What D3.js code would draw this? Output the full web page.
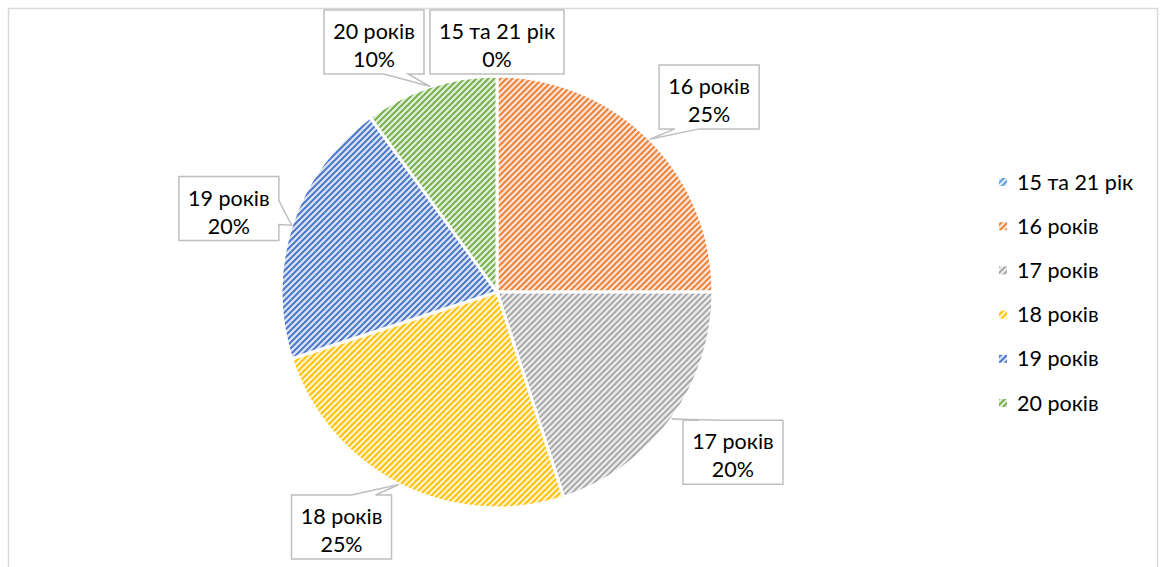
<!DOCTYPE html>
<html>
<head>
<meta charset="utf-8">
<script src="https://cdn.jsdelivr.net/npm/d3@7"></script>
<style>
  html, body { margin: 0; padding: 0; background: #ffffff; }
  svg { display: block; }
  text { font-family: Lato, "Open Sans", sans-serif; fill: #000; }
</style>
</head>
<body>
<svg id="chart" width="1160" height="567"></svg>
<script>
// ---- data ----
const categories = ['15 та 21 рік', '16 років', '17 років', '18 років', '19 років', '20 років'];
const values = [0, 25, 20, 25, 20, 10];
const colors = ['#5B9BD5', '#ED7D31', '#A5A5A5', '#FFC000', '#4472C4', '#70AD47'];

// ---- layout ----
const W = 1160, H = 567;
const cx = 497, cy = 292, R = 216;
const labelR = 283;
const fontSize = 21.5;
const labelNudge = [[0, 0], [12, 5], [7, -6], [-27, 0], [1, 4], [0, 0]];

const svg = d3.select('#chart');
svg.append('rect').attr('x', 8.5).attr('y', 8.5).attr('width', 1149).attr('height', 600)
  .attr('fill', '#fff').attr('stroke', '#d9d9d9').attr('stroke-width', 1.5);

// hatch patterns (wide upward diagonal)
const P = 6;
const defs = svg.append('defs');
colors.forEach((c, i) => {
  const p = defs.append('pattern').attr('id', 'hatch' + i).attr('patternUnits', 'userSpaceOnUse')
    .attr('width', P).attr('height', P);
  p.append('rect').attr('width', P).attr('height', P).attr('fill', d3.interpolateRgb('#ffffff', c)(0.22));
  p.append('path').attr('d', `M-1,${P + 1} L${P + 1},-1 M-2,2 L2,-2 M${P - 2},${P + 2} L${P + 2},${P - 2}`)
    .attr('stroke', c).attr('stroke-width', 1.9).attr('fill', 'none');
});

const total = d3.sum(values);
const pie = d3.pie().sort(null).value(d => d).startAngle(0).endAngle(2 * Math.PI);
const arcs = pie(values);
const arc = d3.arc().innerRadius(0).outerRadius(R);

const g = svg.append('g').attr('transform', `translate(${cx},${cy})`);
g.selectAll('path.slice').data(arcs).enter().append('path')
  .attr('class', 'slice')
  .attr('d', arc)
  .attr('fill', (d, i) => `url(#hatch${i})`)
  .attr('stroke', '#fff').attr('stroke-width', 3).attr('stroke-linejoin', 'round');

// ---- labels ----
const fmt = d3.format('.0%');
const labels = arcs.map((d, i) => {
  const mid = (d.startAngle + d.endAngle) / 2;
  return {
    i, mid,
    lines: [categories[i], fmt(values[i] / total)],
    tip: [cx + R * Math.sin(mid), cy - R * Math.cos(mid)]
  };
});

// measure
const meas = svg.append('text').attr('font-size', fontSize);
labels.forEach(L => {
  let w = 0;
  L.lines.forEach(t => { meas.text(t); w = Math.max(w, meas.node().getComputedTextLength()); });
  L.w = Math.round(w) + 18;
  L.h = 64;
});
meas.remove();

const topLimit = 10, bottomLimit = 559;
labels.forEach(L => {
  let x = cx + labelR * Math.sin(L.mid);
  let y = cy - labelR * Math.cos(L.mid);
  y = Math.max(topLimit + L.h / 2, Math.min(bottomLimit - L.h / 2, y));
  L.x = x + labelNudge[L.i][0];
  L.y = y + labelNudge[L.i][1];
});
// resolve overlaps on the top row: push the neighbour left of the 0% label
for (let b = 0; b < labels.length; b++) {
  const A = labels[0], B = labels[b];
  if (b === 0) continue;
  if (Math.abs(A.y - B.y) < (A.h + B.h) / 2 && B.x < A.x) {
    const maxRight = A.x - A.w / 2 - 6;
    if (B.x + B.w / 2 > maxRight) B.x = maxRight - B.w / 2;
  }
}

function callout(L) {
  const l = L.x - L.w / 2, r = L.x + L.w / 2, t = L.y - L.h / 2, b = L.y + L.h / 2;
  const [tx, ty] = L.tip;
  const hw = 12, off = 28;
  const clamp = (v, lo, hi) => Math.max(lo, Math.min(hi, v));
  if (ty > t - 4 && ty < b + 4 && tx > l - 4 && tx < r + 4) {
    return `M${l},${t}H${r}V${b}H${l}Z`;
  }
  if (ty > b) {
    const c = clamp(tx, l + off, r - off);
    return `M${l},${t}H${r}V${b}H${c + hw}L${tx},${ty}L${c - hw},${b}H${l}Z`;
  } else if (ty < t) {
    const c = clamp(tx, l + off, r - off);
    return `M${l},${t}H${c - hw}L${tx},${ty}L${c + hw},${t}H${r}V${b}H${l}Z`;
  } else if (tx > r) {
    const c = clamp(ty, t + off, b - off);
    return `M${l},${t}H${r}V${c - hw}L${tx},${ty}L${r},${c + hw}V${b}H${l}Z`;
  } else {
    const c = clamp(ty, t + off, b - off);
    return `M${l},${t}H${r}V${b}H${l}V${c + hw}L${tx},${ty}L${l},${c - hw}Z`;
  }
}

const lg = svg.append('g');
labels.forEach(L => {
  lg.append('path').attr('d', callout(L)).attr('fill', '#fff')
    .attr('stroke', '#bfbfbf').attr('stroke-width', 1.5).attr('stroke-linejoin', 'miter');
  const tt = lg.append('text').attr('font-size', fontSize).attr('text-anchor', 'middle');
  L.lines.forEach((s, k) => {
    tt.append('tspan').attr('x', L.x).attr('y', L.y - L.h / 2 + 29 + k * 28).text(s);
  });
});

// ---- legend ----
const legY = d3.scalePoint().domain(categories).range([182, 403]);
const leg = svg.append('g');
categories.forEach((c, i) => {
  const y = legY(c);
  leg.append('rect').attr('x', 999).attr('y', y - 4).attr('width', 8).attr('height', 8)
    .attr('fill', `url(#hatch${i})`);
  leg.append('text').attr('x', 1017).attr('y', y).attr('dy', '0.35em')
    .attr('font-size', fontSize).text(c);
});
</script>
</body>
</html>
